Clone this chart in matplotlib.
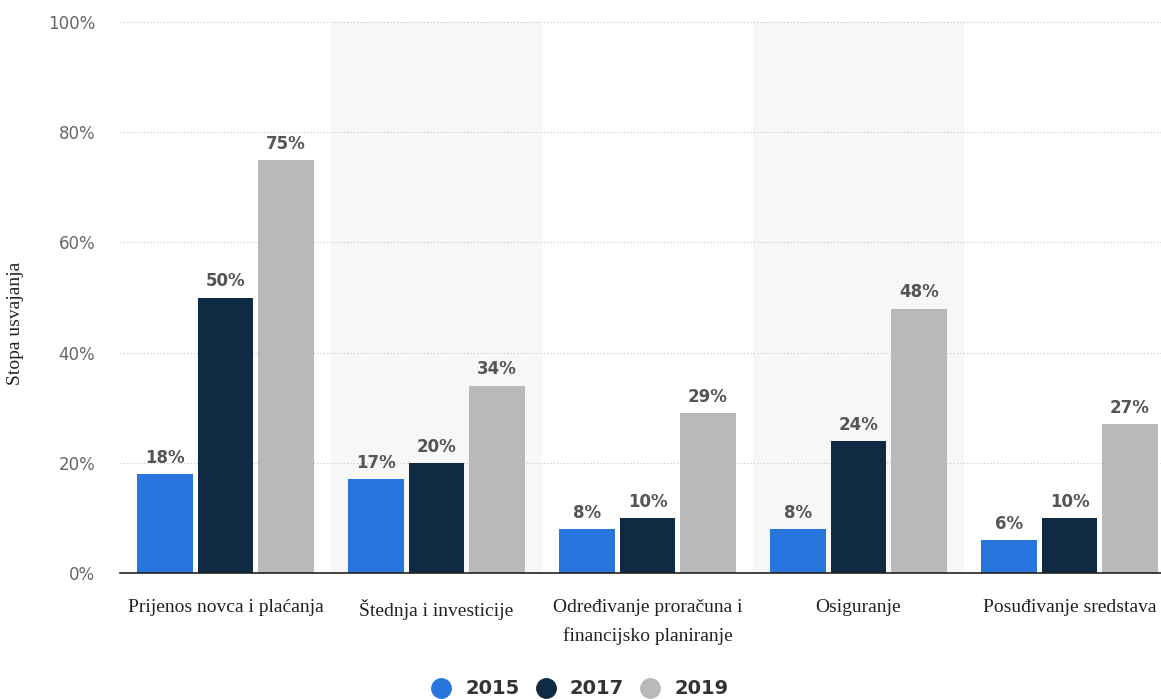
import matplotlib.pyplot as plt
import numpy as np

# Podaci
kategorije = ["Prijenos novca i plaćanja", "Štednja i investicije",
              "Određivanje proračuna i\nfinancijsko planiranje", "Osiguranje",
              "Posuđivanje sredstava"]
godine = ["2015", "2017", "2019"]
v2015 = [18, 17, 8, 8, 6]
v2017 = [50, 20, 10, 24, 10]
v2019 = [75, 34, 29, 48, 27]
boje = ["#2876dd", "#0f2a43", "#b9b9b9"]

fig = plt.figure(figsize=(11.61, 6.99), dpi=100)
ax = fig.add_axes([120 / 1161, 1 - 573 / 699, 1 - 120 / 1161, (573 - 22) / 699])

x = np.arange(len(kategorije))
sirina = 0.265
pomak = 0.285

# zasjenjene trake iza svake druge kategorije
for i in x:
    if i % 2 == 1:
        ax.axvspan(i - 0.5, i + 0.5, color="#f7f7f7", zorder=0, lw=0)

for k, (vals, god, boja) in enumerate(zip([v2015, v2017, v2019], godine, boje)):
    pos = x + (k - 1) * pomak
    ax.bar(pos, vals, width=sirina, color=boja, label=god, zorder=3)
    for p, v in zip(pos, vals):
        ax.text(p, v + 1.3, f"{v}%", ha="center", va="bottom", fontsize=12,
                fontweight="bold", color="#555555", zorder=4)

ax.set_ylim(0, 100)
ax.set_xlim(-0.5, -0.5 + (1161 - 120) / 211)
ax.set_yticks(range(0, 101, 20))
ax.set_yticklabels([f"{t}%" for t in range(0, 101, 20)], fontsize=12, color="#666666")
ax.yaxis.grid(True, linestyle=(0, (1, 2)), color="#c4c4c4", lw=0.8, zorder=1)
ax.set_xticks(x)
ax.set_xticklabels(kategorije, family="Liberation Serif", fontsize=14,
                   color="#222222", linespacing=1.75, va="top")
ax.tick_params(axis="both", length=0)
ax.tick_params(axis="x", pad=19)
ax.tick_params(axis="y", pad=18)
for s in ["top", "right", "left"]:
    ax.spines[s].set_visible(False)
ax.spines["bottom"].set_color("#222222")
ax.spines["bottom"].set_linewidth(1.2)
ax.spines["bottom"].set_zorder(5)

ax.set_ylabel("Stopa usvajanja", family="Liberation Serif", fontsize=14,
              color="#222222")
ax.yaxis.set_label_coords(-96 / 1041, (573 - 323) / 551)

handles = [plt.Line2D([], [], marker="o", ls="", markersize=14, color=b) for b in boje]
leg = fig.legend(handles, godine, loc="center", bbox_to_anchor=(578 / 1161, 1 - 689 / 699),
                 ncol=3, frameon=False, handletextpad=0.55, columnspacing=0.65,
                 handlelength=1.4, prop={"size": 14, "weight": "bold"})
for t in leg.get_texts():
    t.set_color("#333333")

fig.savefig("out.png", dpi=100)
